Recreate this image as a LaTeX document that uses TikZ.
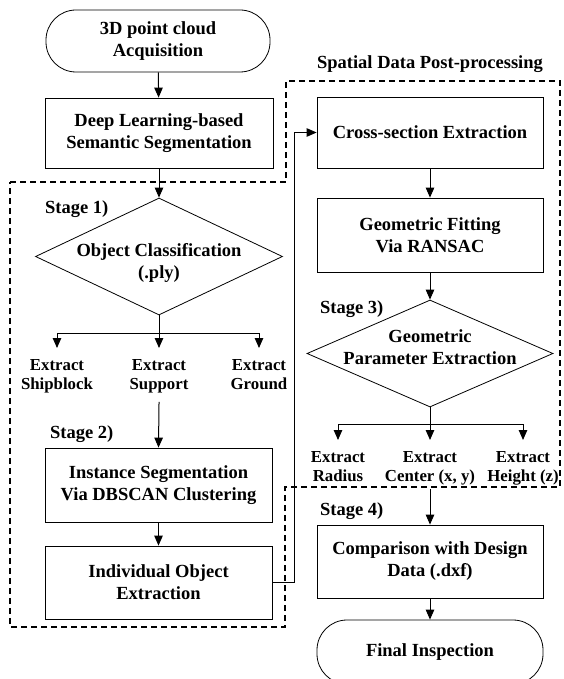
\documentclass[tikz,border=0pt]{standalone}
\usepackage{fontspec}
\setmainfont{Liberation Serif}
\usetikzlibrary{shapes.geometric,arrows.meta}
\tikzset{
  box/.style={draw, line width=0.8pt, align=center, inner sep=0pt,
    font=\bfseries\fontsize{18.5}{22}\selectfont},
  term/.style={box, rounded corners=30pt},
  dia/.style={draw, diamond, line width=0.8pt, inner sep=0pt},
  diatext/.style={align=center, inner sep=0pt, font=\bfseries\fontsize{18.5}{22}\selectfont},
  lbl/.style={align=center, inner xsep=0pt, inner ysep=11pt, anchor=north,
    font=\bfseries\fontsize{16.8}{19}\selectfont},
  stg/.style={inner sep=0pt, font=\bfseries\fontsize{18.5}{22}\selectfont},
  arr/.style={-{Triangle[width=8.5pt,length=10pt]}, line width=1pt},
  ln/.style={line width=1pt},
  region/.style={dashed, dash pattern=on 6pt off 4pt, line width=1.6pt}
}
\begin{document}
\begin{tikzpicture}[x=1pt,y=-1pt]
\useasboundingbox (0,0) rectangle (563,679);
% dashed region
\draw[region] (10,182) -- (286,182) -- (286,81) -- (560,81) -- (560,487)
  -- (285,487) -- (285,627) -- (10,627) -- cycle;
% left column
\node[term, minimum width=224pt, minimum height=62pt] (start) at (158,41) {3D point cloud\\Acquisition};
\node[box, minimum width=228pt, minimum height=70pt] (dl) at (159,133) {Deep Learning-based\\Semantic Segmentation};
\node[dia, minimum width=247pt, minimum height=117pt] (d1) at (159,256.5) {};
\node[diatext] (d1t) at (159,263) {Object Classification\\(.ply)};
\node[stg, anchor=base west] (s1) at (45,213) {Stage 1)};
\coordinate (b1) at (159,333);
\node[lbl] (sb) at (57,348) {Extract\\Shipblock};
\node[lbl] (sp) at (159,348) {Extract\\Support};
\node[lbl] (gr) at (259,348) {Extract\\Ground};
\node[stg, anchor=base west] (s2) at (50,438) {Stage 2)};
\node[box, minimum width=227pt, minimum height=74pt] (is) at (158.5,485) {Instance Segmentation\\Via DBSCAN Clustering};
\node[box, minimum width=227pt, minimum height=73pt] (io) at (158.5,582.5) {Individual Object\\Extraction};
% right column
\node[stg, anchor=base] (title) at (430,69) {Spatial Data Post-processing};
\node[box, minimum width=226pt, minimum height=71pt] (cs) at (430,132.5) {Cross-section Extraction};
\node[box, minimum width=226pt, minimum height=74pt] (gf) at (430,235) {Geometric Fitting\\Via RANSAC};
\node[stg, anchor=base west] (s3) at (320,313) {Stage 3)};
\node[dia, minimum width=246pt, minimum height=107pt] (d2) at (430,353.5) {};
\node[diatext] (d2t) at (430,347) {Geometric\\Parameter Extraction};
\coordinate (b2) at (430,424);
\node[lbl] (ra) at (338,440) {Extract\\Radius};
\node[lbl] (ce) at (430,440) {Extract\\Center (x, y)};
\node[lbl] (he) at (523,440) {Extract\\Height (z)};
\node[stg, anchor=base west] (s4) at (320,515) {Stage 4)};
\node[box, minimum width=226pt, minimum height=73pt] (cm) at (430,561.5) {Comparison with Design\\Data (.dxf)};
\node[term, minimum width=226pt, minimum height=64pt] (fi) at (430,652) {Final Inspection};
% connectors
\draw[arr] (start) -- (dl);
\draw[arr] (dl) -- (d1.north);
\draw[ln] (d1.south) -- (b1);
\draw[arr] (b1) -| (sb.north);
\draw[arr] (b1) -| (gr.north);
\draw[arr] (b1) -- (sp.north);
\draw[arr, shorten <=-2pt] (sp.south) -- (is.north);
\draw[arr] (is) -- (io);
\coordinate (jn) at (294,132.5);
\draw[arr] (io.east) -| (jn) -- (cs.west);
\draw[arr] (cs) -- (gf);
\draw[arr] (gf) -- (d2.north);
\draw[ln] (d2.south) -- (b2);
\draw[arr] (b2) -| (ra.north);
\draw[arr] (b2) -| (he.north);
\draw[arr] (b2) -- (ce.north);
\draw[arr, shorten <=-7pt] (ce.south) -- (cm.north);
\draw[arr] (cm) -- (fi);
\end{tikzpicture}
\end{document}
